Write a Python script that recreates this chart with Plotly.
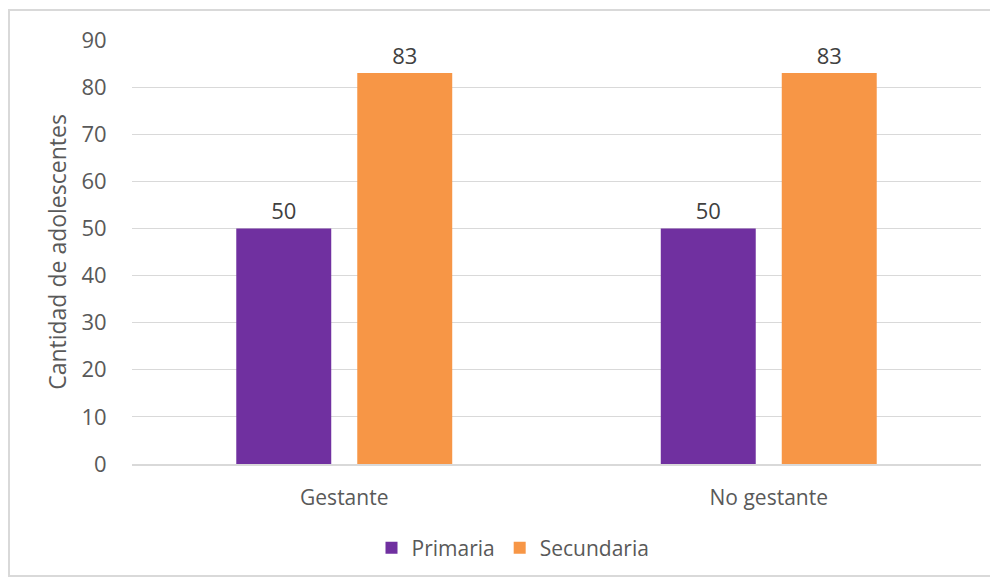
import plotly.graph_objects as go

categories = ["Gestante", "No gestante"]
primaria = [50, 50]
secundaria = [83, 83]
series_names = ["Primaria", "Secundaria"]
colors = ["#7030A0", "#F79646"]

FONT = "Open Sans, sans-serif"
OFF = 8  # page body margin in the browser

fig = go.Figure()
for name, vals, col in zip(series_names, [primaria, secundaria], colors):
    fig.add_trace(go.Bar(
        x=categories, y=vals, name=name, marker=dict(color=col, line=dict(width=0)),
        text=[str(v) for v in vals], textposition="outside",
        textfont=dict(size=22, color="#404040", family=FONT), cliponaxis=False,
    ))

L, T = 132 - OFF, 40 - OFF
R = 998 - (981 - OFF)
B = 578 - (464 - OFF)
PW, PH = 981 - 132, 464 - 40

fig.update_layout(
    width=998, height=578,
    margin=dict(l=L, r=R, t=T, b=B),
    paper_bgcolor="white", plot_bgcolor="white",
    barmode="group", bargap=0.43, bargroupgap=0.215,
    font=dict(family=FONT, color="#595959", size=21),
    showlegend=True,
    legend=dict(orientation="h", x=(513 - 132) / PW, xanchor="center",
                y=(464 - 548) / PH, yanchor="middle",
                font=dict(size=21, color="#595959"), itemwidth=30, traceorder="normal"),
    xaxis=dict(showgrid=False, ticks="outside", ticklen=14, tickcolor="rgba(0,0,0,0)",
               showline=True, linecolor="#d9d9d9", linewidth=1.5,
               tickfont=dict(size=21, color="#595959")),
    yaxis=dict(range=[0, 90], dtick=10, showgrid=True, gridcolor="#d9d9d9", gridwidth=1,
               zeroline=False, showline=False, ticks="outside", ticklen=20,
               tickcolor="rgba(0,0,0,0)",
               tickfont=dict(size=22, color="#595959"),
               title=dict(text="Cantidad de adolescentes", standoff=8,
                          font=dict(size=23, color="#595959"))),
)
fig.add_shape(type="rect", xref="paper", yref="paper",
              x0=(9 - 132) / PW, x1=(1000 - 132) / PW,
              y0=(464 - 576) / PH, y1=1 + 30 / PH,
              line=dict(color="#d9d9d9", width=2), layer="below")
fig.write_html("out.html")
